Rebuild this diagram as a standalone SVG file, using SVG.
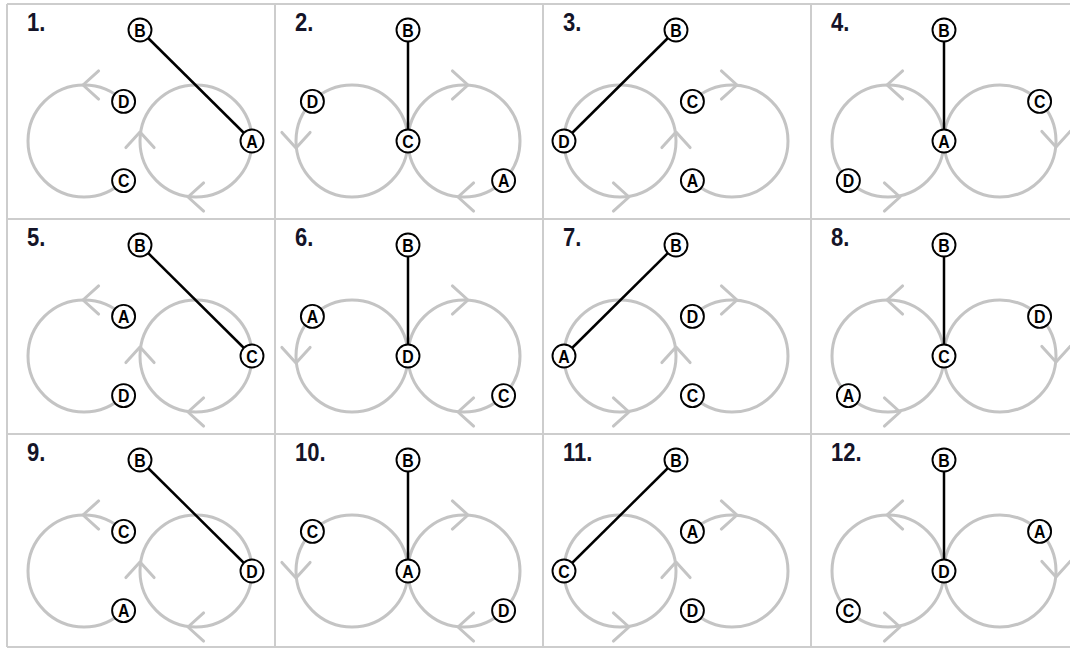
<svg xmlns="http://www.w3.org/2000/svg" width="1070" height="648" viewBox="0 0 1070 648">
<style>
.grid{stroke:#cdcdcd;stroke-width:2;fill:none}
.loop{stroke:#c4c4c4;stroke-width:3;fill:none;stroke-linecap:round;stroke-linejoin:round}
.link{stroke:#000;stroke-width:2.5;fill:none}
.node circle{fill:#fff;stroke:#000;stroke-width:1.9}
.node text{font-family:"Liberation Sans",Arial,sans-serif;font-weight:bold;font-size:18px;text-anchor:middle;fill:#000}
.num{font-family:"Liberation Sans",Arial,sans-serif;font-weight:bold;font-size:25px;fill:#141428}
</style>
<defs>
<g id="loops-X">
<path class="loop" d="M116.6,97.4 A56,56 0 1 0 116.6,176.6"/>
<circle class="loop" cx="189" cy="137" r="56"/>
<path class="loop" d="M91.6,66.9 L76,81 L91.6,95.1"/>
<path class="loop" d="M118.9,143.6 L133,128 L147.1,143.6"/>
<path class="loop" d="M196.6,178.9 L181,193 L196.6,207.1"/>
</g>
<g id="loops-Y">
<circle class="loop" cx="77" cy="137" r="56"/>
<circle class="loop" cx="189" cy="137" r="56"/>
<path class="loop" d="M6.9,128.4 L21,144 L35.1,128.4"/>
<path class="loop" d="M177.4,66.9 L193,81 L177.4,95.1"/>
<path class="loop" d="M198.6,178.9 L183,193 L198.6,207.1"/>
</g>
<g id="loops-Z">
<circle class="loop" cx="77" cy="137" r="56"/>
<path class="loop" d="M149.4,97.4 A56,56 0 1 1 149.4,176.6"/>
<path class="loop" d="M118.9,143.6 L133,128 L147.1,143.6"/>
<path class="loop" d="M70.4,178.9 L86,193 L70.4,207.1"/>
<path class="loop" d="M178.4,66.9 L194,81 L178.4,95.1"/>
</g>
<g id="loops-W">
<circle class="loop" cx="77" cy="137" r="56"/>
<circle class="loop" cx="189" cy="137" r="56"/>
<path class="loop" d="M91.6,66.9 L76,81 L91.6,95.1"/>
<path class="loop" d="M73.4,178.9 L89,193 L73.4,207.1"/>
<path class="loop" d="M230.9,127.4 L245,143 L259.1,127.4"/>
</g>
</defs>
<rect width="1070" height="648" fill="#fff"/>
<g id="grid">
<path class="grid" d="M7,4 H1070 M7,219 H1070 M7,434 H1070 M7,647 H1070 M7,4 V647 M275,4 V647 M543,4 V647 M811,4 V647"/>
</g>

<g id="panel-1" transform="translate(7,4)">
<text class="num" transform="translate(20,27) scale(0.88,1)">1.</text>
<use href="#loops-X"/>
<g id="p1-connectors"><path class="link" d="M133,26 L245,137"/></g>
<g id="p1-B" class="node" transform="translate(133,26)"><circle r="11.5"/><text y="6.5" transform="scale(0.88,1)">B</text></g>
<g id="p1-A" class="node" transform="translate(245,137)"><circle r="11.5"/><text y="6.5" transform="scale(0.88,1)">A</text></g>
<g id="p1-D" class="node" transform="translate(116.6,97.4)"><circle r="11.5"/><text y="6.5" transform="scale(0.88,1)">D</text></g>
<g id="p1-C" class="node" transform="translate(116.6,176.6)"><circle r="11.5"/><text y="6.5" transform="scale(0.88,1)">C</text></g>
</g>

<g id="panel-2" transform="translate(275,4)">
<text class="num" transform="translate(20,27) scale(0.88,1)">2.</text>
<use href="#loops-Y"/>
<g id="p2-connectors"><path class="link" d="M133,26 L133,137"/></g>
<g id="p2-B" class="node" transform="translate(133,26)"><circle r="11.5"/><text y="6.5" transform="scale(0.88,1)">B</text></g>
<g id="p2-C" class="node" transform="translate(133,137)"><circle r="11.5"/><text y="6.5" transform="scale(0.88,1)">C</text></g>
<g id="p2-D" class="node" transform="translate(37.4,97.4)"><circle r="11.5"/><text y="6.5" transform="scale(0.88,1)">D</text></g>
<g id="p2-A" class="node" transform="translate(228.6,176.6)"><circle r="11.5"/><text y="6.5" transform="scale(0.88,1)">A</text></g>
</g>

<g id="panel-3" transform="translate(543,4)">
<text class="num" transform="translate(20,27) scale(0.88,1)">3.</text>
<use href="#loops-Z"/>
<g id="p3-connectors"><path class="link" d="M133,26 L21,137"/></g>
<g id="p3-B" class="node" transform="translate(133,26)"><circle r="11.5"/><text y="6.5" transform="scale(0.88,1)">B</text></g>
<g id="p3-D" class="node" transform="translate(21,137)"><circle r="11.5"/><text y="6.5" transform="scale(0.88,1)">D</text></g>
<g id="p3-C" class="node" transform="translate(149.4,97.4)"><circle r="11.5"/><text y="6.5" transform="scale(0.88,1)">C</text></g>
<g id="p3-A" class="node" transform="translate(149.4,176.6)"><circle r="11.5"/><text y="6.5" transform="scale(0.88,1)">A</text></g>
</g>

<g id="panel-4" transform="translate(811,4)">
<text class="num" transform="translate(20,27) scale(0.88,1)">4.</text>
<use href="#loops-W"/>
<g id="p4-connectors"><path class="link" d="M133,26 L133,137"/></g>
<g id="p4-B" class="node" transform="translate(133,26)"><circle r="11.5"/><text y="6.5" transform="scale(0.88,1)">B</text></g>
<g id="p4-A" class="node" transform="translate(133,137)"><circle r="11.5"/><text y="6.5" transform="scale(0.88,1)">A</text></g>
<g id="p4-C" class="node" transform="translate(228.6,97.4)"><circle r="11.5"/><text y="6.5" transform="scale(0.88,1)">C</text></g>
<g id="p4-D" class="node" transform="translate(37.4,176.6)"><circle r="11.5"/><text y="6.5" transform="scale(0.88,1)">D</text></g>
</g>

<g id="panel-5" transform="translate(7,219)">
<text class="num" transform="translate(20,27) scale(0.88,1)">5.</text>
<use href="#loops-X"/>
<g id="p5-connectors"><path class="link" d="M133,26 L245,137"/></g>
<g id="p5-B" class="node" transform="translate(133,26)"><circle r="11.5"/><text y="6.5" transform="scale(0.88,1)">B</text></g>
<g id="p5-C" class="node" transform="translate(245,137)"><circle r="11.5"/><text y="6.5" transform="scale(0.88,1)">C</text></g>
<g id="p5-A" class="node" transform="translate(116.6,97.4)"><circle r="11.5"/><text y="6.5" transform="scale(0.88,1)">A</text></g>
<g id="p5-D" class="node" transform="translate(116.6,176.6)"><circle r="11.5"/><text y="6.5" transform="scale(0.88,1)">D</text></g>
</g>

<g id="panel-6" transform="translate(275,219)">
<text class="num" transform="translate(20,27) scale(0.88,1)">6.</text>
<use href="#loops-Y"/>
<g id="p6-connectors"><path class="link" d="M133,26 L133,137"/></g>
<g id="p6-B" class="node" transform="translate(133,26)"><circle r="11.5"/><text y="6.5" transform="scale(0.88,1)">B</text></g>
<g id="p6-D" class="node" transform="translate(133,137)"><circle r="11.5"/><text y="6.5" transform="scale(0.88,1)">D</text></g>
<g id="p6-A" class="node" transform="translate(37.4,97.4)"><circle r="11.5"/><text y="6.5" transform="scale(0.88,1)">A</text></g>
<g id="p6-C" class="node" transform="translate(228.6,176.6)"><circle r="11.5"/><text y="6.5" transform="scale(0.88,1)">C</text></g>
</g>

<g id="panel-7" transform="translate(543,219)">
<text class="num" transform="translate(20,27) scale(0.88,1)">7.</text>
<use href="#loops-Z"/>
<g id="p7-connectors"><path class="link" d="M133,26 L21,137"/></g>
<g id="p7-B" class="node" transform="translate(133,26)"><circle r="11.5"/><text y="6.5" transform="scale(0.88,1)">B</text></g>
<g id="p7-A" class="node" transform="translate(21,137)"><circle r="11.5"/><text y="6.5" transform="scale(0.88,1)">A</text></g>
<g id="p7-D" class="node" transform="translate(149.4,97.4)"><circle r="11.5"/><text y="6.5" transform="scale(0.88,1)">D</text></g>
<g id="p7-C" class="node" transform="translate(149.4,176.6)"><circle r="11.5"/><text y="6.5" transform="scale(0.88,1)">C</text></g>
</g>

<g id="panel-8" transform="translate(811,219)">
<text class="num" transform="translate(20,27) scale(0.88,1)">8.</text>
<use href="#loops-W"/>
<g id="p8-connectors"><path class="link" d="M133,26 L133,137"/></g>
<g id="p8-B" class="node" transform="translate(133,26)"><circle r="11.5"/><text y="6.5" transform="scale(0.88,1)">B</text></g>
<g id="p8-C" class="node" transform="translate(133,137)"><circle r="11.5"/><text y="6.5" transform="scale(0.88,1)">C</text></g>
<g id="p8-D" class="node" transform="translate(228.6,97.4)"><circle r="11.5"/><text y="6.5" transform="scale(0.88,1)">D</text></g>
<g id="p8-A" class="node" transform="translate(37.4,176.6)"><circle r="11.5"/><text y="6.5" transform="scale(0.88,1)">A</text></g>
</g>

<g id="panel-9" transform="translate(7,434)">
<text class="num" transform="translate(20,27) scale(0.88,1)">9.</text>
<use href="#loops-X"/>
<g id="p9-connectors"><path class="link" d="M133,26 L245,137"/></g>
<g id="p9-B" class="node" transform="translate(133,26)"><circle r="11.5"/><text y="6.5" transform="scale(0.88,1)">B</text></g>
<g id="p9-D" class="node" transform="translate(245,137)"><circle r="11.5"/><text y="6.5" transform="scale(0.88,1)">D</text></g>
<g id="p9-C" class="node" transform="translate(116.6,97.4)"><circle r="11.5"/><text y="6.5" transform="scale(0.88,1)">C</text></g>
<g id="p9-A" class="node" transform="translate(116.6,176.6)"><circle r="11.5"/><text y="6.5" transform="scale(0.88,1)">A</text></g>
</g>

<g id="panel-10" transform="translate(275,434)">
<text class="num" transform="translate(20,27) scale(0.88,1)">10.</text>
<use href="#loops-Y"/>
<g id="p10-connectors"><path class="link" d="M133,26 L133,137"/></g>
<g id="p10-B" class="node" transform="translate(133,26)"><circle r="11.5"/><text y="6.5" transform="scale(0.88,1)">B</text></g>
<g id="p10-A" class="node" transform="translate(133,137)"><circle r="11.5"/><text y="6.5" transform="scale(0.88,1)">A</text></g>
<g id="p10-C" class="node" transform="translate(37.4,97.4)"><circle r="11.5"/><text y="6.5" transform="scale(0.88,1)">C</text></g>
<g id="p10-D" class="node" transform="translate(228.6,176.6)"><circle r="11.5"/><text y="6.5" transform="scale(0.88,1)">D</text></g>
</g>

<g id="panel-11" transform="translate(543,434)">
<text class="num" transform="translate(20,27) scale(0.88,1)">11.</text>
<use href="#loops-Z"/>
<g id="p11-connectors"><path class="link" d="M133,26 L21,137"/></g>
<g id="p11-B" class="node" transform="translate(133,26)"><circle r="11.5"/><text y="6.5" transform="scale(0.88,1)">B</text></g>
<g id="p11-C" class="node" transform="translate(21,137)"><circle r="11.5"/><text y="6.5" transform="scale(0.88,1)">C</text></g>
<g id="p11-A" class="node" transform="translate(149.4,97.4)"><circle r="11.5"/><text y="6.5" transform="scale(0.88,1)">A</text></g>
<g id="p11-D" class="node" transform="translate(149.4,176.6)"><circle r="11.5"/><text y="6.5" transform="scale(0.88,1)">D</text></g>
</g>

<g id="panel-12" transform="translate(811,434)">
<text class="num" transform="translate(20,27) scale(0.88,1)">12.</text>
<use href="#loops-W"/>
<g id="p12-connectors"><path class="link" d="M133,26 L133,137"/></g>
<g id="p12-B" class="node" transform="translate(133,26)"><circle r="11.5"/><text y="6.5" transform="scale(0.88,1)">B</text></g>
<g id="p12-D" class="node" transform="translate(133,137)"><circle r="11.5"/><text y="6.5" transform="scale(0.88,1)">D</text></g>
<g id="p12-A" class="node" transform="translate(228.6,97.4)"><circle r="11.5"/><text y="6.5" transform="scale(0.88,1)">A</text></g>
<g id="p12-C" class="node" transform="translate(37.4,176.6)"><circle r="11.5"/><text y="6.5" transform="scale(0.88,1)">C</text></g>
</g>
</svg>
